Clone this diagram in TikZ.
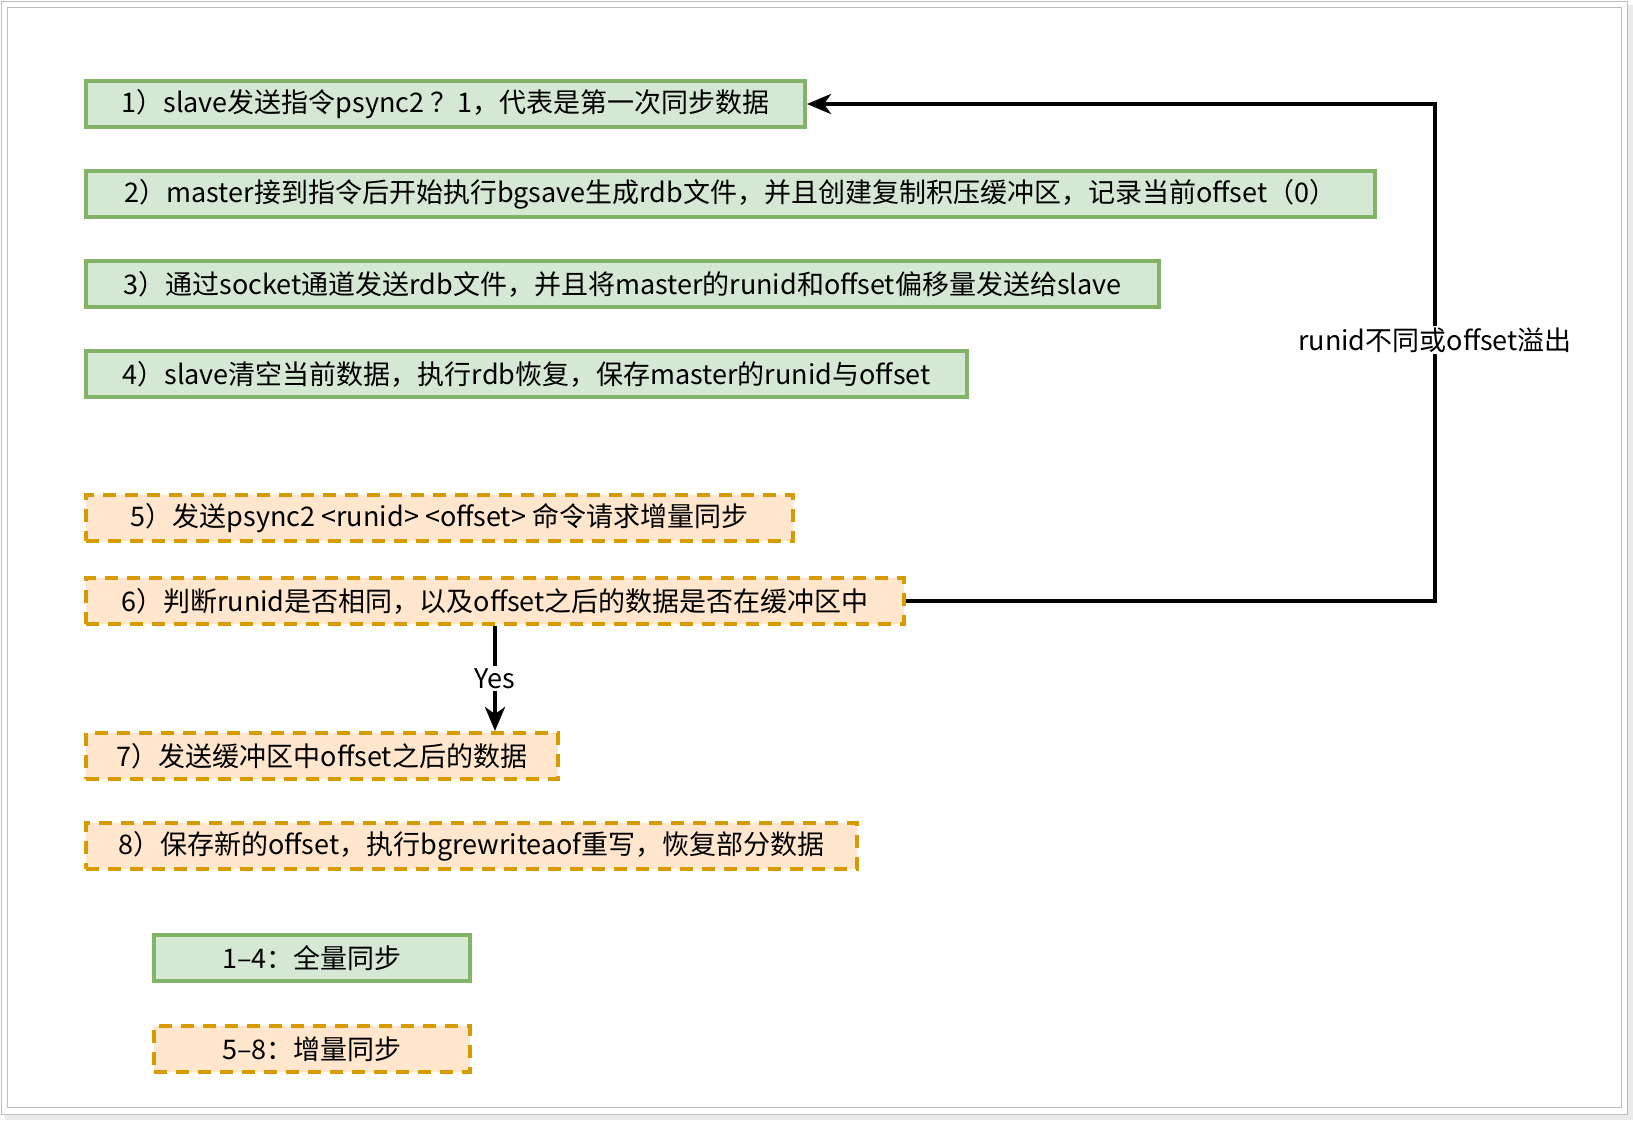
\documentclass[tikz,border=0pt]{standalone}
\usepackage{fontspec}
\setmainfont{Noto Sans CJK SC}
\usetikzlibrary{arrows.meta}
\definecolor{fullfill}{HTML}{D5E8D4}
\definecolor{fulldraw}{HTML}{82B366}
\definecolor{partfill}{HTML}{FFE6CC}
\definecolor{partdraw}{HTML}{D79B00}
\definecolor{framegray}{HTML}{BDBDBD}
\begin{document}
\begin{tikzpicture}[x=0.5pt, y=-0.5pt,
  every node/.style={font=\fontsize{13.5}{16}\selectfont, inner sep=0pt},
  stepbase/.style={anchor=west, line width=2pt, minimum height=23pt, align=center},
  fullbox/.style={stepbase, draw=fulldraw, fill=fullfill},
  partbox/.style={stepbase, draw=partdraw, fill=partfill, dash pattern=on 6.5pt off 4.5pt},
  flow/.style={line width=2pt, -{Stealth[length=12pt,width=10pt,inset=3.5pt]}},
  lbl/.style={fill=white, inner sep=1pt}]
\useasboundingbox (0,0) rectangle (1633,1120);
\fill[black!8] (5,5) rectangle (1633,1120);
\filldraw[fill=white, draw=framegray, line width=0.5pt] (1,1) rectangle (1627,1114);
\draw[framegray, line width=0.5pt] (7,7) rectangle (1621,1107);
\node[fullbox, minimum width=359.5pt] (s1) at (84,104) {1）slave发送指令psync2 ？1，代表是第一次同步数据};
\node[fullbox, minimum width=644.5pt] (s2) at (84,194) {2）master接到指令后开始执行bgsave生成rdb文件，并且创建复制积压缓冲区，记录当前offset（0）};
\node[fullbox, minimum width=536.5pt] (s3) at (84,284) {3）通过socket通道发送rdb文件，并且将master的runid和offset偏移量发送给slave};
\node[fullbox, minimum width=440.5pt] (s4) at (84,374) {4）slave清空当前数据，执行rdb恢复，保存master的runid与offset};
\node[partbox, minimum width=353.5pt] (s5) at (84,518) {5）发送psync2 <runid> <offset> 命令请求增量同步};
\node[partbox, minimum width=409pt] (s6) at (84,601) {6）判断runid是否相同，以及offset之后的数据是否在缓冲区中};
\node[partbox, minimum width=236pt] (s7) at (84,756) {7）发送缓冲区中offset之后的数据};
\node[partbox, minimum width=385.5pt] (s8) at (84,846) {8）保存新的offset，执行bgrewriteaof重写，恢复部分数据};
\node[fullbox, minimum width=158pt] (lg1) at (152,958) {1–4：全量同步};
\node[partbox, minimum width=158pt] (lg2) at (152,1049) {5–8：增量同步};
\coordinate (bend) at (1435,340);
\draw[flow] (s6.east) -| (bend) node[lbl] {runid不同或offset溢出} |- (s1.east);
\draw[flow] (s6.south) -- node[lbl] {Yes} (s6.south |- s7.north);
\end{tikzpicture}
\end{document}
